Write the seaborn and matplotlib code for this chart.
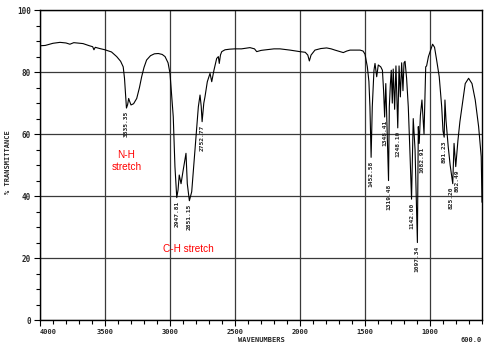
import matplotlib
matplotlib.use("Agg")
import matplotlib.pyplot as plt
from matplotlib.ticker import MultipleLocator
from matplotlib.transforms import offset_copy
import numpy as np
import pandas as pd
import seaborn as sns

# IR spectrum: wavenumber (cm-1) and % transmittance
wavenumber = [
    4000, 3960, 3900, 3846, 3800, 3770, 3740, 3669, 3620, 3595, 3585, 3575,
    3540, 3500, 3450, 3410, 3380, 3360, 3350, 3341, 3335, 3326, 3318, 3310,
    3300, 3280, 3256, 3235, 3218, 3200, 3180, 3150, 3120, 3090, 3060, 3038,
    3015, 3000, 2990, 2975, 2962, 2948, 2938, 2929, 2915, 2900, 2877, 2867,
    2851, 2833, 2808, 2782, 2769, 2760, 2753, 2740, 2731, 2713, 2692, 2679,
    2662, 2641, 2628, 2621, 2612, 2602, 2577, 2540, 2500, 2450, 2400, 2385,
    2350, 2333, 2300, 2282, 2200, 2154, 2077, 2000, 1960, 1940, 1928, 1915,
    1885, 1840, 1795, 1760, 1731, 1690, 1667, 1640, 1615, 1538, 1515, 1500,
    1482, 1470, 1462, 1453, 1444, 1431, 1423, 1410, 1398, 1379, 1366, 1357,
    1349, 1340, 1333, 1319, 1313, 1305, 1298, 1290, 1283, 1272, 1262, 1248,
    1238, 1228, 1218, 1208, 1200, 1192, 1180, 1167, 1155, 1142, 1129, 1115,
    1097, 1090, 1083, 1074, 1062, 1046, 1033, 1026, 1012, 1000, 980, 965,
    949, 929, 910, 900, 891, 885, 877, 860, 845, 825, 815, 808, 802, 785,
    770, 754, 729, 703, 677, 652, 626, 606, 600,
]
transmittance = [
    88.5, 88.6, 89.3, 89.6, 89.4, 89.0, 89.5, 89.2, 88.5, 88.2, 87.2, 88.0,
    87.6, 87.2, 86.5, 85.0, 83.5, 81.7, 78.0, 72.0, 68.4, 69.5, 71.5, 70.5,
    69.4, 69.8, 71.5, 75.0, 78.5, 81.5, 83.9, 85.3, 85.9, 86.0, 85.7, 85.0,
    83.0, 79.6, 74.0, 65.6, 49.5, 39.5, 42.0, 46.8, 44.0, 48.0, 53.8, 44.0,
    38.5, 41.4, 54.8, 68.8, 72.6, 69.0, 64.0, 70.0, 72.0, 76.9, 79.6, 76.9,
    80.6, 84.4, 85.0, 82.8, 85.5, 86.6, 87.2, 87.4, 87.5, 87.5, 87.8, 87.9,
    87.5, 86.6, 87.0, 87.1, 87.5, 87.5, 87.1, 86.6, 86.4, 85.5, 83.6, 85.5,
    87.1, 87.6, 87.8, 87.5, 87.1, 86.6, 86.3, 86.8, 87.1, 87.1, 86.8, 85.8,
    81.7, 77.0, 68.8, 52.5, 68.8, 80.6, 82.8, 78.5, 82.3, 81.7, 80.6, 74.0,
    65.5, 76.3, 66.0, 45.0, 68.8, 76.0, 80.6, 70.0, 81.0, 68.0, 82.0, 62.0,
    82.0, 72.0, 83.0, 74.0, 83.0, 83.5, 78.0, 68.8, 55.0, 39.0, 65.0, 55.0,
    25.0, 62.4, 57.0, 66.0, 71.0, 60.0, 81.7, 82.0, 85.0, 86.5, 89.0, 88.0,
    83.9, 78.5, 68.8, 61.0, 59.0, 71.0, 64.5, 56.0, 50.0, 44.0, 57.0, 53.0,
    49.5, 58.0, 64.0, 68.8, 76.3, 78.0, 76.3, 71.0, 62.4, 52.7, 38.0,
]

# Labelled absorption minima
peak_labels = ["3335.35", "2947.81", "2851.15", "2752.77", "1452.58",
               "1348.41", "1319.48", "1248.10", "1142.00", "1097.34",
               "1082.91", "891.23", "825.20", "802.49"]
peak_wn = [3335.35, 2947.81, 2851.15, 2752.77, 1452.58, 1348.41, 1319.48,
           1248.10, 1142.00, 1097.34, 1082.91, 891.23, 825.20, 802.49]
peak_t = [68.4, 39.5, 38.5, 64.0, 52.5, 65.5, 45.0, 62.0, 39.0, 25.0,
          57.0, 59.0, 44.0, 49.5]
# small sideways nudges (points) so neighbouring labels do not collide
label_dx = [0, 0, 0, 0, 0, 0, 0, 0, 0, 0, 1.8, 0, -1.2, 0.8]

x_ticks = [4000, 3500, 3000, 2500, 2000, 1500, 1000]
x_tick_labels = ["4000", "3500", "3000", "2500", "2000", "1500", "1000"]
y_ticks = [0, 20, 40, 60, 80, 100]
y_tick_labels = ["0", "20", "40", "60", "80", "100"]

sns.set_style("white")
plt.rcParams["font.family"] = ["DejaVu Sans"]

df = pd.DataFrame({"wavenumber": wavenumber, "transmittance": transmittance})

fig = plt.figure(figsize=(5.0, 3.49), dpi=100)
ax = fig.add_axes([0.08, 0.083, 0.884, 0.888])

sns.lineplot(data=df, x="wavenumber", y="transmittance", sort=False,
             color="black", linewidth=0.8, ax=ax, zorder=3)

ax.set_xlim(4000, 600)
ax.set_ylim(0, 100)

mono = dict(family="DejaVu Sans Mono", weight="bold")

ax.set_xticks(x_ticks)
ax.set_xticklabels(x_tick_labels, fontsize=5, **mono)
ax.get_xticklabels()[0].set_ha("left")
ax.set_yticks(y_ticks)
ax.set_yticklabels(y_tick_labels, fontsize=5.5, **mono)
ax.xaxis.set_minor_locator(MultipleLocator(100))
ax.yaxis.set_minor_locator(MultipleLocator(5))
ax.tick_params(which="major", direction="out", length=4, width=0.8,
               color="black", pad=2.5)
ax.tick_params(which="minor", direction="out", length=3, width=0.8,
               color="black")
ax.tick_params(axis="x", which="both", bottom=True)
ax.tick_params(axis="y", which="both", left=True)

ax.grid(True, which="major", color="#3a3a3a", linewidth=0.9)
for s in ax.spines.values():
    s.set_color("black")
    s.set_linewidth(1.0)

ax.set_xlabel("")
ax.set_ylabel("")
fig.text(0.522, 0.027, "WAVENUMBERS", ha="center", va="center",
         fontsize=5, **mono)
fig.text(0.964, 0.027, "600.0", ha="right", va="center", fontsize=5, **mono)
fig.text(0.016, 0.535, "% TRANSMITTANCE", ha="center", va="center",
         rotation=90, fontsize=5, **mono)

# Peak position labels under each minimum
for lab, w, t, dx in zip(peak_labels, peak_wn, peak_t, label_dx):
    tr = offset_copy(ax.transData, fig=fig, x=dx, y=0, units="points")
    ax.text(w, t - 1.0, lab, rotation=90, ha="center", va="top",
            fontsize=4.5, zorder=4, transform=tr, **mono)

ax.text(3335, 51.3, "N-H\nstretch", color="red", ha="center", va="center",
        fontsize=7.2, family="Liberation Sans", linespacing=1.15)
ax.text(2862, 23.0, "C-H stretch", color="red", ha="center", va="center",
        fontsize=7.2, family="Liberation Sans")

fig.savefig("out.png", dpi=100)
